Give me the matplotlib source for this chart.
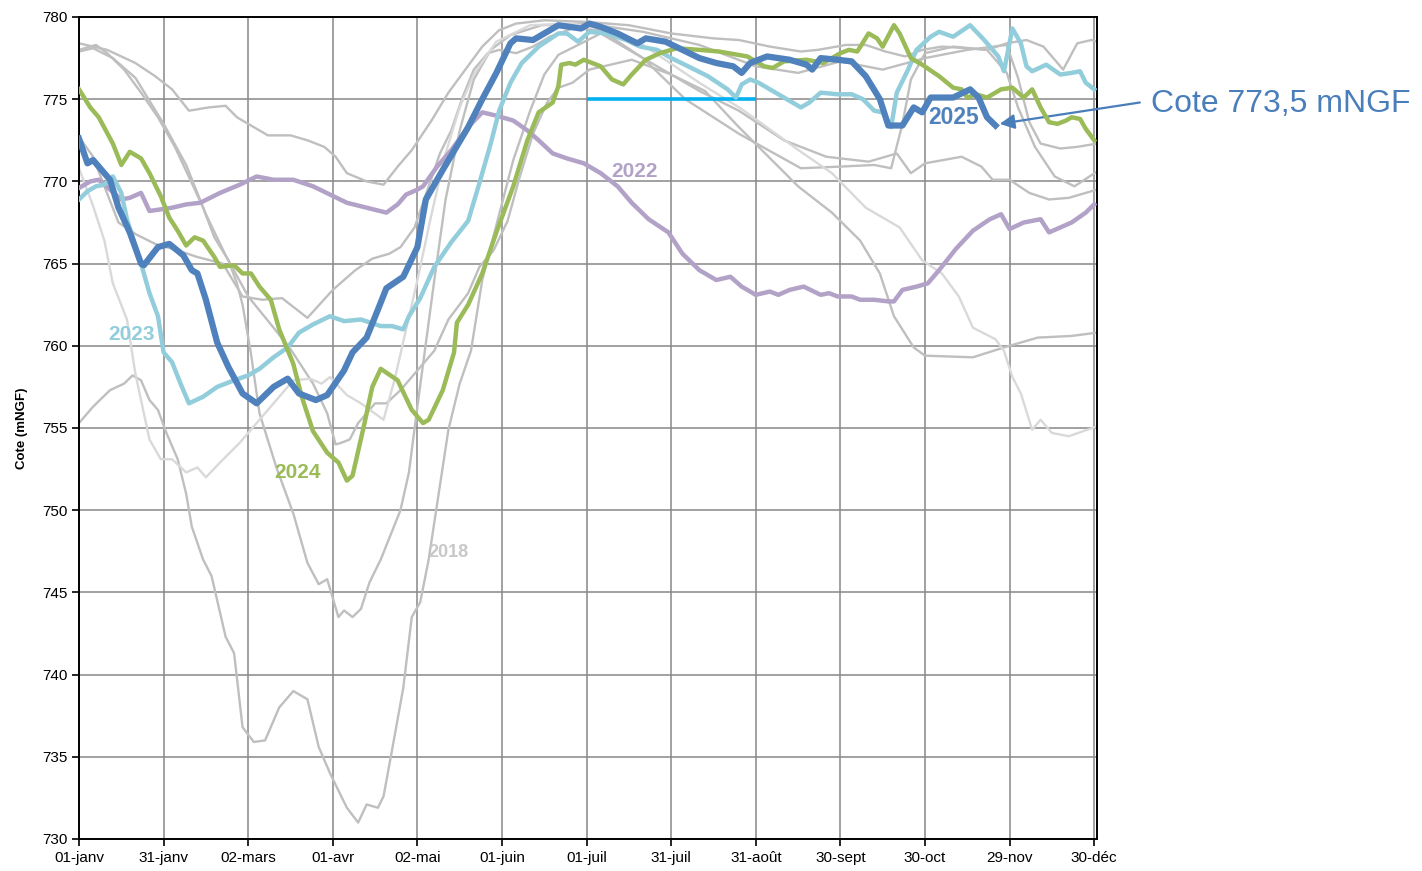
import matplotlib
matplotlib.use("Agg")
import matplotlib.pyplot as plt

plt.rcParams['font.family'] = ['Liberation Sans', 'DejaVu Sans']

# ---------------- data (day of year, level mNGF) ----------------
tick_days = [0, 30, 60, 90, 120, 150, 180, 210, 240, 270, 300, 330, 360]
tick_labels = ['01-janv', '31-janv', '02-mars', '01-avr', '02-mai', '01-juin',
               '01-juil', '31-juil', '31-août', '30-sept', '30-oct', '29-nov', '30-déc']

d2025 = [0, 3, 5, 8, 11, 14, 18, 22, 23, 28, 32, 37, 40, 42, 45, 49, 53, 58, 63, 69, 74, 78,
         84, 88, 94, 97, 102, 106, 109, 115, 120, 123, 129, 138, 143, 148, 153, 155, 161, 170,
         178, 181, 185, 191, 198, 201, 208, 214, 220, 226, 232, 235, 238, 244, 252, 258, 260,
         263, 269, 274, 279, 284, 287, 292, 296, 299, 302, 306, 310, 316, 319, 322, 325]
v2025 = [772.6, 771.1, 771.3, 770.7, 770.1, 768.4, 766.9, 765.0, 764.9, 766.0, 766.2, 765.5,
         764.6, 764.4, 762.8, 760.2, 758.7, 757.1, 756.5, 757.5, 758.0, 757.1, 756.7, 757.0,
         758.5, 759.6, 760.5, 762.2, 763.5, 764.2, 766.0, 768.9, 770.7, 773.3, 775.0, 776.6,
         778.4, 778.7, 778.6, 779.5, 779.3, 779.6, 779.4, 779.0, 778.4, 778.7, 778.5, 778.0,
         777.5, 777.2, 777.0, 776.6, 777.2, 777.6, 777.4, 777.1, 776.8, 777.5, 777.4, 777.3,
         776.4, 775.0, 773.4, 773.4, 774.5, 774.2, 775.1, 775.1, 775.1, 775.6, 775.1, 773.9,
         773.4]

d2024 = [0, 4, 7, 12, 15, 18, 22, 25, 29, 32, 35, 38, 41, 44, 48, 50, 55, 58, 61, 64, 68, 71,
         76, 79, 83, 88, 92, 95, 97, 101, 104, 107, 113, 118, 122, 124, 129, 133, 134, 138, 143,
         148, 154, 159, 163, 168, 170, 171, 174, 176, 179, 185, 189, 193, 196, 201, 206, 212,
         220, 227, 237, 241, 243, 246, 250, 258, 264, 270, 273, 276, 280, 283, 285, 289, 291,
         295, 299, 305, 310, 313, 315, 318, 322, 327, 331, 335, 338, 341, 344, 347, 350, 352,
         355, 357, 360]
v2024 = [775.6, 774.5, 773.9, 772.3, 771.0, 771.8, 771.4, 770.5, 769.1, 767.8, 767.0, 766.1,
         766.6, 766.4, 765.4, 764.8, 764.9, 764.4, 764.4, 763.6, 762.8, 761.0, 758.9, 756.9,
         754.8, 753.5, 752.9, 751.8, 752.1, 755.1, 757.5, 758.6, 757.9, 756.1, 755.3, 755.5,
         757.3, 759.6, 761.4, 762.5, 764.4, 766.9, 769.7, 772.5, 774.2, 774.8, 775.8, 777.1,
         777.2, 777.1, 777.4, 777.0, 776.2, 775.9, 776.5, 777.4, 777.8, 778.1, 778.0, 777.9,
         777.6, 777.2, 777.0, 776.9, 777.3, 777.4, 777.2, 777.8, 778.0, 777.9, 779.0, 778.7,
         778.2, 779.5, 779.0, 777.5, 777.1, 776.4, 775.7, 775.6, 775.1, 775.3, 775.1, 775.6,
         775.7, 775.1, 775.6, 774.5, 773.6, 773.5, 773.7, 773.9, 773.8, 773.2, 772.5]

d2023 = [0, 3, 6, 9, 12, 15, 17, 22, 25, 28, 30, 33, 36, 39, 44, 49, 55, 60, 64, 69, 74, 78,
         83, 89, 94, 100, 107, 111, 115, 117, 121, 126, 132, 138, 142, 146, 149, 153, 157, 163,
         170, 173, 177, 181, 187, 194, 199, 205, 210, 216, 223, 230, 233, 235, 238, 241, 244,
         250, 256, 259, 263, 269, 274, 278, 282, 285, 288, 290, 294, 297, 302, 305, 310, 316,
         321, 326, 328, 331, 334, 336, 338, 343, 348, 352, 355, 357, 360]
v2023 = [768.9, 769.4, 769.7, 769.8, 770.3, 769.3, 767.7, 765.0, 763.2, 761.8, 759.6, 759.0,
         757.7, 756.5, 756.9, 757.5, 757.9, 758.2, 758.6, 759.3, 759.9, 760.8, 761.3, 761.8,
         761.5, 761.6, 761.2, 761.2, 761.0, 761.8, 762.9, 764.8, 766.3, 767.6, 769.9, 772.3,
         774.3, 776.0, 777.2, 778.2, 779.0, 779.0, 778.5, 779.1, 779.0, 778.6, 778.2, 778.0,
         777.5, 777.0, 776.4, 775.6, 775.1, 775.9, 776.2, 776.0, 775.7, 775.1, 774.5, 774.8,
         775.4, 775.3, 775.3, 775.0, 774.3, 774.2, 773.3, 775.4, 776.8, 778.0, 778.8, 779.1,
         778.8, 779.5, 778.6, 777.6, 776.7, 779.3, 778.4, 777.0, 776.7, 777.1, 776.5, 776.6,
         776.7, 776.0, 775.6]

d2022 = [0, 4, 7, 11, 15, 18, 22, 25, 29, 33, 38, 43, 50, 57, 63, 69, 76, 83, 89, 95, 102,
         109, 113, 116, 120, 122, 127, 132, 138, 143, 148, 154, 159, 163, 168, 173, 179, 185,
         191, 196, 202, 209, 214, 220, 226, 231, 235, 240, 245, 248, 252, 257, 263, 266, 269,
         274, 277, 282, 287, 289, 292, 297, 301, 305, 311, 317, 323, 327, 330, 335, 341, 344,
         348, 352, 357, 360]
v2022 = [769.6, 770.0, 770.1, 769.5, 768.9, 769.0, 769.3, 768.2, 768.3, 768.4, 768.6, 768.7,
         769.3, 769.8, 770.3, 770.1, 770.1, 769.7, 769.2, 768.7, 768.4, 768.1, 768.6, 769.2,
         769.5, 769.7, 770.9, 771.9, 773.3, 774.2, 774.0, 773.7, 773.1, 772.5, 771.7, 771.4,
         771.1, 770.5, 769.7, 768.7, 767.7, 766.9, 765.6, 764.6, 764.0, 764.2, 763.6, 763.1,
         763.3, 763.1, 763.4, 763.6, 763.1, 763.2, 763.0, 763.0, 762.8, 762.8, 762.7, 762.7,
         763.4, 763.6, 763.8, 764.6, 765.9, 767.0, 767.7, 768.0, 767.1, 767.5, 767.7, 766.9,
         767.2, 767.5, 768.1, 768.6]

# past years (grey)
dg1 = [0, 10, 20, 27, 33, 39, 46, 52, 56, 62, 67, 75, 81, 87, 91, 95, 102, 108, 113, 118, 125,
       131, 137, 143, 149, 155, 165, 180, 195, 210, 225, 234, 245, 256, 262, 272, 279, 286,
       293, 299, 306, 315, 322, 329, 336, 342, 349, 354, 359, 361]
vg1 = [778.4, 778.0, 777.2, 776.4, 775.6, 774.3, 774.5, 774.6, 773.9, 773.3, 772.8, 772.8,
       772.5, 772.1, 771.5, 770.5, 770.0, 769.8, 770.9, 771.9, 773.7, 775.4, 776.8, 778.2,
       779.2, 779.6, 779.8, 779.7, 779.5, 779.0, 778.7, 778.6, 778.2, 777.9, 778.0, 778.3,
       778.3, 777.9, 777.6, 778.0, 778.2, 778.1, 778.0, 778.4, 778.6, 778.2, 776.8, 778.4,
       778.6, 778.5]

dg2 = [0, 6, 10, 16, 22, 28, 34, 40, 44, 48, 53, 56, 58, 61, 64, 70, 76, 81, 85, 88, 92, 94,
       97, 100, 103, 107, 114, 117, 120, 126, 130, 135, 140, 146, 153, 164, 180, 200, 220,
       240, 255, 270, 285, 300, 315, 329, 333, 337, 341, 348, 354, 361]
vg2 = [778.0, 778.3, 777.8, 776.8, 775.4, 773.9, 772.1, 769.9, 768.4, 766.6, 765.2, 763.8,
       762.5, 759.5, 755.9, 752.6, 749.8, 746.8, 745.5, 745.8, 743.5, 743.9, 743.5, 744.0,
       745.6, 747.0, 750.0, 752.3, 756.3, 764.0, 768.9, 773.1, 776.2, 778.0, 778.9, 779.5,
       779.6, 779.1, 778.3, 777.0, 776.6, 777.3, 776.8, 777.5, 778.0, 778.3, 776.3, 773.6,
       772.3, 772.0, 772.1, 772.3]

# 2018
dg3 = [0, 5, 11, 16, 19, 22, 25, 28, 31, 35, 38, 40, 44, 47, 52, 55, 58, 62, 66, 71, 76, 81,
       85, 89, 95, 99, 102, 106, 108, 111, 115, 118, 121, 124, 131, 135, 139, 143, 149, 154,
       160, 165, 170, 177, 185, 200, 215, 234, 256, 270, 282, 288, 292, 295, 300, 310, 322,
       329, 333, 339, 346, 353, 361]
vg3 = [755.3, 756.3, 757.3, 757.7, 758.2, 757.9, 756.7, 756.1, 754.7, 753.1, 751.0, 749.0,
       747.0, 746.0, 742.3, 741.3, 736.8, 735.9, 736.0, 738.0, 739.0, 738.5, 735.6, 734.0,
       731.9, 731.0, 732.1, 731.9, 732.6, 735.4, 739.2, 743.5, 744.4, 747.0, 754.9, 757.7,
       759.7, 764.0, 768.0, 771.3, 774.3, 776.5, 777.7, 778.3, 779.0, 777.5, 775.0, 772.9,
       770.8, 770.9, 771.0, 770.8, 773.5, 776.2, 777.8, 778.2, 778.0, 776.6, 774.5, 772.1,
       770.3, 769.7, 770.6]

dg4 = [0, 5, 9, 14, 20, 27, 35, 42, 51, 58, 65, 72, 81, 90, 98, 104, 110, 114, 119, 124, 128,
       132, 136, 140, 145, 149, 155, 161, 167, 175, 185, 200, 220, 234, 250, 265, 280, 290,
       295, 300, 313, 320, 324, 330, 337, 344, 351, 361]
vg4 = [772.7, 771.5, 769.7, 767.5, 766.8, 766.2, 765.8, 765.4, 765.0, 763.0, 762.8, 762.9,
       761.7, 763.4, 764.6, 765.3, 765.6, 766.0, 767.2, 769.7, 771.7, 773.1, 775.1, 776.8,
       777.8, 778.0, 777.8, 778.2, 778.8, 779.3, 779.2, 777.5, 775.5, 774.3, 772.5, 771.5,
       771.2, 771.7, 770.5, 771.1, 771.5, 770.9, 770.1, 770.1, 769.3, 768.9, 769.0, 769.5]

dg5 = [0, 5, 12, 20, 30, 38, 45, 52, 60, 69, 75, 83, 88, 91, 93, 96, 99, 105, 109, 114, 120,
       126, 131, 138, 142, 147, 152, 156, 161, 166, 170, 175, 181, 196, 210, 222, 234, 255,
       267, 277, 284, 289, 296, 300, 317, 328, 340, 352, 361]
vg5 = [777.9, 778.1, 777.5, 776.3, 773.5, 771.0, 768.0, 765.5, 763.0, 761.1, 759.8, 757.7,
       755.9, 754.0, 754.1, 754.3, 755.3, 756.5, 756.5, 757.3, 758.5, 759.7, 761.6, 763.2,
       764.8, 765.8, 767.6, 770.1, 772.9, 774.8, 775.7, 776.0, 776.8, 777.4, 776.5, 775.5,
       773.3, 769.7, 768.1, 766.4, 764.4, 761.8, 759.9, 759.4, 759.3, 759.9, 760.5, 760.6,
       760.8]

# lighter grey year
dg6 = [0, 5, 9, 12, 17, 20, 25, 29, 33, 38, 42, 45, 50, 57, 64, 71, 76, 82, 86, 89, 95, 100,
       108, 112, 120, 125, 130, 135, 140, 148, 160, 175, 185, 200, 220, 235, 256, 267, 279,
       291, 299, 306, 312, 317, 325, 328, 331, 334, 338, 341, 345, 351, 361]
vg6 = [770.8, 768.5, 766.4, 763.8, 761.6, 758.3, 754.3, 753.1, 753.1, 752.3, 752.6, 752.0,
       752.9, 754.1, 755.5, 756.9, 757.9, 758.0, 757.7, 758.1, 757.0, 756.5, 755.5, 758.0,
       764.0, 768.0, 771.7, 774.5, 776.5, 778.5, 779.5, 779.6, 779.3, 778.3, 776.0, 774.4,
       771.8, 770.5, 768.4, 767.2, 765.2, 764.4, 763.0, 761.1, 760.4, 759.7, 758.1, 757.1,
       754.9, 755.5, 754.7, 754.5, 755.1]

ref_days = [180, 240]
ref_level = [775, 775]

# ---------------- figure ----------------
W, H = 1422, 871
fig = plt.figure(figsize=(W / 100, H / 100), dpi=100)
ax = fig.add_axes([79 / W, 1 - 839 / H, (1097 - 79) / W, (839 - 17) / H])

grey = '#BFBFBF'
ax.plot(dg1, vg1, color=grey, lw=1.7, zorder=2)
ax.plot(dg2, vg2, color=grey, lw=1.7, zorder=2)
ax.plot(dg3, vg3, color=grey, lw=1.7, zorder=2)
ax.plot(dg4, vg4, color=grey, lw=1.7, zorder=2)
ax.plot(dg5, vg5, color=grey, lw=1.7, zorder=2)
ax.plot(dg6, vg6, color='#D9D9D9', lw=1.7, zorder=2)

ax.plot(ref_days, ref_level, color='#00B0F0', lw=2.6, zorder=3, solid_capstyle='butt')

ax.plot(d2022, v2022, color='#B3A2C7', lw=3.2, zorder=4)
ax.plot(d2023, v2023, color='#92CDDC', lw=3.2, zorder=5)
ax.plot(d2024, v2024, color='#9BBB59', lw=3.2, zorder=6)
ax.plot(d2025, v2025, color='#4F81BD', lw=4.5, zorder=7)

lab = dict(fontweight='bold', ha='center', va='center', zorder=8)
ax.text(197, 770.6, '2022', color='#B3A2C7', fontsize=15, **lab)
ax.text(18.5, 760.7, '2023', color='#92CDDC', fontsize=15, **lab)
ax.text(77.5, 752.3, '2024', color='#9BBB59', fontsize=15, **lab)
ax.text(310, 773.9, '2025', color='#4F81BD', fontsize=16.5, **lab)
ax.text(131, 747.4, '2018', color='#C8C8C8', fontsize=13, **lab)

ax.text(380, 774.7, 'Cote 773,5 mNGF', fontsize=23, color='#4A7EBB',
        va='center', ha='left', clip_on=False)
ax.annotate('', xy=(326.5, 773.5), xytext=(376.2, 774.8), textcoords='data',
            annotation_clip=False,
            arrowprops=dict(arrowstyle='-|>', color='#4A7EBB', lw=1.6,
                            mutation_scale=22, shrinkA=0, shrinkB=0))

ax.set_xlim(0, 361)
ax.set_ylim(730, 780)
ax.set_xticks(tick_days)
ax.set_xticklabels(tick_labels)
ax.set_yticks(range(730, 781, 5))
ax.tick_params(axis='both', labelsize=11, direction='out', length=5, width=1.2,
               color='black')
ax.grid(True, color='#888888', lw=1.1, zorder=1)
ax.set_axisbelow(True)
for s in ax.spines.values():
    s.set_color('black')
    s.set_linewidth(1.4)
ax.set_ylabel('Cote (mNGF)', fontsize=9.5, fontweight='bold', labelpad=10)

fig.savefig('out.png', dpi=100)
